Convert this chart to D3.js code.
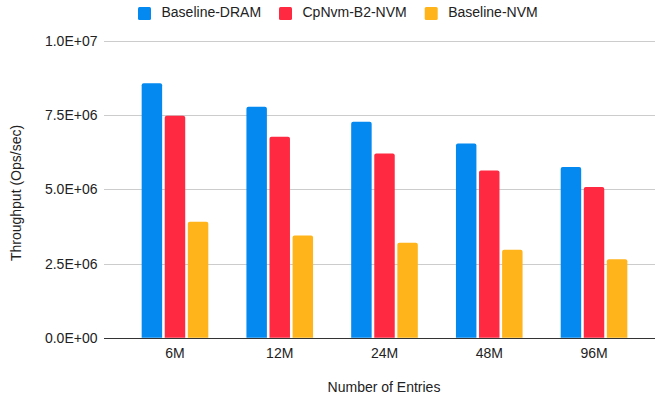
<!DOCTYPE html>
<html>
<head>
<meta charset="utf-8">
<script src="https://cdn.jsdelivr.net/npm/d3@7"></script>
<style>
  html, body { margin: 0; padding: 0; background: #fff; }
  svg { display: block; font-family: "Liberation Sans", Arial, sans-serif; }
</style>
</head>
<body>
<svg id="chart" width="655" height="401"></svg>
<script>
// Throughput by table size for each configuration
const categories = ["6M", "12M", "24M", "48M", "96M"];
const seriesNames = ["Baseline-DRAM", "CpNvm-B2-NVM", "Baseline-NVM"];
const baselineDram = [8.57e6, 7.78e6, 7.28e6, 6.54e6, 5.75e6];
const cpNvmB2Nvm   = [7.48e6, 6.77e6, 6.21e6, 5.63e6, 5.08e6];
const baselineNvm  = [3.91e6, 3.44e6, 3.20e6, 2.96e6, 2.64e6];
const yTicks = [0, 2.5e6, 5e6, 7.5e6, 1e7];
const colors = ["#0389F0", "#FF2A41", "#FFB41B"];

const seriesValues = [baselineDram, cpNvmB2Nvm, baselineNvm];

const svg = d3.select("#chart");
const textColor = "#222";

const plotLeft = 104, plotRight = 655;
const y = d3.scaleLinear().domain([0, 1e7]).range([337.7, 40.9]);
const x0 = d3.scaleBand().domain(categories).range([122.6, 646.4])
  .paddingInner(0.364).paddingOuter(0.182);
const x1 = d3.scaleBand().domain(seriesNames).range([0, x0.bandwidth()])
  .paddingInner(0.113);

// horizontal gridlines
svg.append("g").selectAll("line")
  .data(yTicks.filter(d => d > 0))
  .join("line")
  .attr("x1", plotLeft).attr("x2", plotRight)
  .attr("y1", d => Math.round(y(d)) + 0.5).attr("y2", d => Math.round(y(d)) + 0.5)
  .attr("stroke", "#cccccc").attr("stroke-width", 1);

// y tick labels
const fmt = v => v.toExponential(1).toUpperCase().replace(/E([+-])(\d)$/, "E$10$2");
svg.append("g").selectAll("text")
  .data(yTicks)
  .join("text")
  .attr("x", 97.5)
  .attr("y", d => y(d))
  .attr("dy", "0.36em")
  .attr("text-anchor", "end")
  .attr("font-size", 14)
  .attr("fill", textColor)
  .text(fmt);

// bars with slightly rounded tops
const r = 2;
function barPath(xl, w, yt, yb) {
  const rr = Math.min(r, (yb - yt) / 2, w / 2);
  return `M${xl},${yb}V${yt + rr}Q${xl},${yt} ${xl + rr},${yt}H${xl + w - rr}Q${xl + w},${yt} ${xl + w},${yt + rr}V${yb}Z`;
}
const groups = svg.append("g").selectAll("g")
  .data(categories)
  .join("g")
  .attr("transform", d => `translate(${x0(d)},0)`);
groups.selectAll("path")
  .data((c, ci) => seriesNames.map((s, si) => ({ s, si, v: seriesValues[si][ci] })))
  .join("path")
  .attr("d", d => barPath(x1(d.s), x1.bandwidth(), y(d.v), y(0)))
  .attr("fill", d => colors[d.si]);

// baseline
svg.append("line")
  .attr("x1", plotLeft).attr("x2", plotRight)
  .attr("y1", Math.round(y(0)) + 0.5).attr("y2", Math.round(y(0)) + 0.5)
  .attr("stroke", "#333").attr("stroke-width", 1);

// x category labels
svg.append("g").selectAll("text")
  .data(categories)
  .join("text")
  .attr("x", d => x0(d) + x0.bandwidth() / 2)
  .attr("y", 357.8)
  .attr("text-anchor", "middle")
  .attr("font-size", 14)
  .attr("fill", textColor)
  .text(d => d);

// axis titles
svg.append("text")
  .attr("x", 384).attr("y", 391.8)
  .attr("text-anchor", "middle")
  .attr("font-size", 14)
  .attr("fill", textColor)
  .text("Number of Entries");

svg.append("text")
  .attr("transform", "translate(21,193) rotate(-90)")
  .attr("text-anchor", "middle")
  .attr("font-size", 14)
  .attr("fill", textColor)
  .text("Throughput (Ops/sec)");

// legend
const legendX = [138, 279, 424.7];
const legend = svg.append("g").selectAll("g")
  .data(seriesNames)
  .join("g")
  .attr("transform", (d, i) => `translate(${legendX[i]},7)`);
legend.append("rect")
  .attr("width", 13).attr("height", 13).attr("rx", 1.5)
  .attr("fill", (d, i) => colors[i]);
legend.append("text")
  .attr("x", 23.5).attr("y", 10.4)
  .attr("font-size", 14)
  .attr("fill", textColor)
  .text(d => d);
</script>
</body>
</html>
